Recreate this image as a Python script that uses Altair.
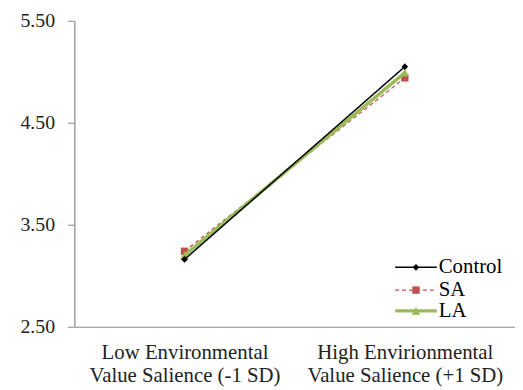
import altair as alt
import pandas as pd

categories = ["Low Environmental|Value Salience (-1 SD)", "High Envirionmental|Value Salience (+1 SD)"]
series = ["Control", "SA", "LA"]
control = [3.16, 5.05]
sa = [3.24, 4.94]
la = [3.20, 4.99]

colors = {"Control": "#000000", "SA": "#C0504D", "LA": "#9BBB59"}
shapes = {"Control": "diamond", "SA": "square", "LA": "triangle-up"}
widths = {"Control": 1.5, "SA": 1.2, "LA": 3.5}
dashes = {"Control": [1, 0], "SA": [4, 3], "LA": [1, 0]}
sizes = {"Control": 45, "SA": 55, "LA": 80}

vals = {"Control": control, "SA": sa, "LA": la}
rows = []
for s in series:
    for c, v in zip(categories, vals[s]):
        rows.append({"cat": c, "series": s, "value": v})
df = pd.DataFrame(rows)

FONT = "Liberation Serif"

x_enc = alt.X("cat:N", sort=categories, scale=alt.Scale(type="point", padding=0.5),
              axis=alt.Axis(title=None, labelExpr="split(datum.label, '|')", labelAngle=0,
                            labelFont=FONT, labelFontSize=21, labelColor="#222",
                            labelLineHeight=23, labelPadding=15, ticks=False, labelLimit=400,
                            labelOverlap=False, domainColor="#888", domainWidth=1.2))
y_enc = alt.Y("value:Q", scale=alt.Scale(domain=[2.5, 5.5], nice=False, zero=False),
              axis=alt.Axis(title=None, values=[2.5, 3.5, 4.5, 5.5], format=".2f",
                            labelFont=FONT, labelFontSize=20, labelColor="#222",
                            tickColor="#888", tickSize=7, domainColor="#888", domainWidth=1.2,
                            grid=False, labelPadding=13))

layers = []
for s in ["SA", "LA", "Control"]:
    d = df[df.series == s]
    base = alt.Chart(d)
    layers.append(base.mark_line(color=colors[s], strokeWidth=widths[s], strokeDash=dashes[s])
                  .encode(x=x_enc, y=y_enc))
    layers.append(base.mark_point(shape=shapes[s], filled=True, color=colors[s], size=sizes[s], opacity=1)
                  .encode(x=x_enc, y=y_enc))

# manual legend
leg_y = {"Control": 249, "SA": 272, "LA": 293}
for s in series:
    ld = pd.DataFrame({"label": [s]})
    lb = alt.Chart(ld)
    layers.append(lb.mark_rule(color=colors[s], strokeWidth=widths[s], strokeDash=dashes[s])
                  .encode(x=alt.value(324), x2=alt.value(366), y=alt.value(leg_y[s])))
    layers.append(lb.mark_point(shape=shapes[s], filled=True, color=colors[s], size=sizes[s], opacity=1)
                  .encode(x=alt.value(345), y=alt.value(leg_y[s])))
    layers.append(lb.mark_text(align="left", baseline="middle", font=FONT, fontSize=21, color="#000")
                  .encode(x=alt.value(368), y=alt.value(leg_y[s]), text="label:N"))

chart = alt.layer(*layers).properties(width=445, height=309,
                                      autosize=alt.AutoSizeParams(type="none"),
                                      padding={"left": 67, "top": 11, "right": 0, "bottom": 60},
                                      view=alt.ViewBackground(stroke=None))

chart.save("out.html", embed_options={"renderer": "svg", "actions": False})
